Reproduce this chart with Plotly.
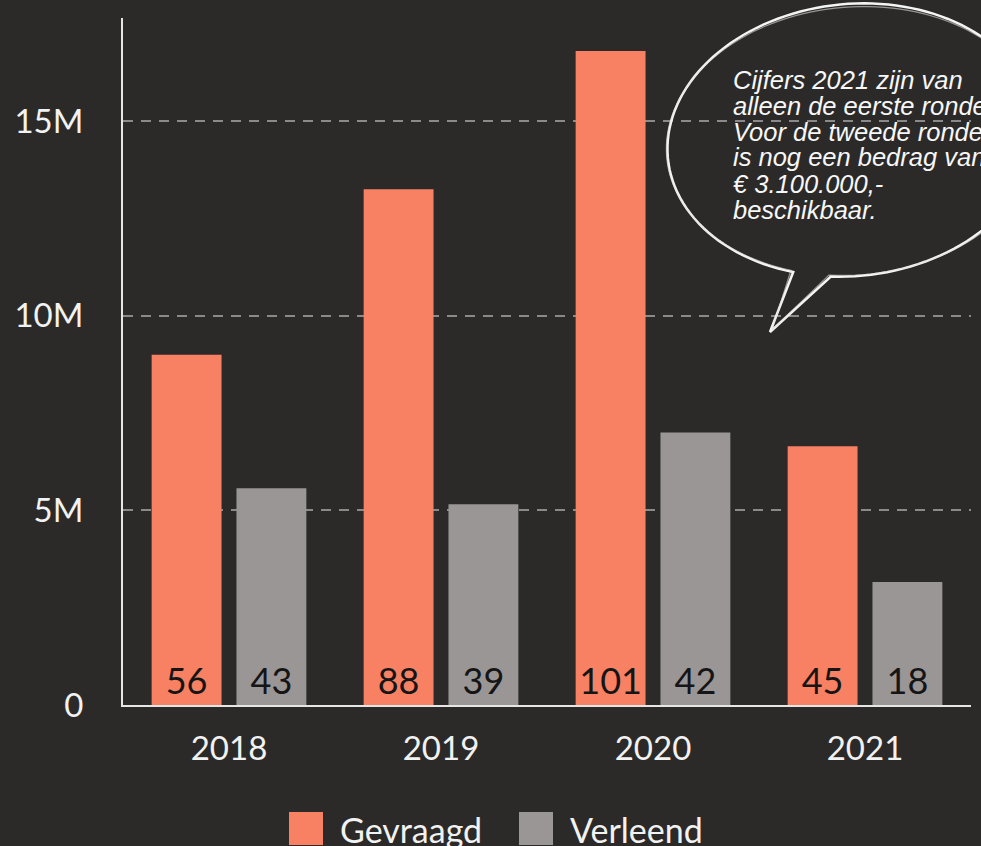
import numpy as np
import plotly.graph_objects as go

# ---- data ----
years = ["2018", "2019", "2020", "2021"]
gevraagd = [9.0e6, 13.25e6, 16.8e6, 6.65e6]
verleend = [5.57e6, 5.16e6, 7.0e6, 3.16e6]
aantal_gevraagd = [56, 88, 101, 45]
aantal_verleend = [43, 39, 42, 18]
series_names = ["Gevraagd", "Verleend"]
y_tickvals = [0, 5e6, 10e6, 15e6]
y_ticktext = ["0", "5M", "10M", "15M"]
note_lines = [
    "Cijfers 2021 zijn van",
    "alleen de eerste ronde.",
    "Voor de tweede ronde",
    "is nog een bedrag van",
    "€ 3.100.000,-",
    "beschikbaar.",
]

# ---- style ----
BG = "#2b2a29"
ORANGE = "#f98163"
GREY = "#9a9695"
TXT = "#f2f2f2"
W, H = 981, 846
ML, MR, MT, MB = 123, 10, 18, 141
PW, PH = W - ML - MR, H - MT - MB


def px(x):
    return (x - ML) / PW


def py(y):
    return (H - MB - y) / PH


fig = go.Figure()
colors = [ORANGE, GREY]
for name, vals, counts, col in zip(series_names, [gevraagd, verleend],
                                   [aantal_gevraagd, aantal_verleend], colors):
    fig.add_trace(go.Bar(
        x=years, y=vals, name=name,
        marker=dict(color=col, line=dict(width=0)),
        text=[str(c) for c in counts],
        textposition="inside", insidetextanchor="start", textangle=0,
        textfont=dict(family="Lato, sans-serif", size=36, color="#151515"),
        showlegend=False,
    ))

shapes = []
annotations = []

# custom legend
leg = [(289, 338, ORANGE, series_names[0]), (519, 568, GREY, series_names[1])]
for x0, xt, col, name in leg:
    shapes.append(dict(type="rect", xref="paper", yref="paper",
                       x0=px(x0), x1=px(x0 + 34), y0=py(845), y1=py(812),
                       fillcolor=col, line=dict(width=0), layer="above"))
    annotations.append(dict(x=px(xt), y=py(829), xref="paper", yref="paper",
                            text=name, showarrow=False, xanchor="left", yanchor="middle",
                            font=dict(family="Lato, sans-serif", size=34, color=TXT)))

# speech bubble
def bubble_path(cx, cy, a, b, th_deg, t0, t1, tip):
    th = np.radians(th_deg)
    t = np.radians(np.linspace(t0, t1, 140))
    ex, ey = a * np.cos(t), b * np.sin(t)
    xs = cx + ex * np.cos(th) - ey * np.sin(th)
    ys = cy + ex * np.sin(th) + ey * np.cos(th)
    pts = [f"{px(x):.5f},{py(y):.5f}" for x, y in zip(xs, ys)]
    pts.append(f"{px(tip[0]):.5f},{py(tip[1]):.5f}")
    return "M" + " L".join(pts) + " Z"

shapes.append(dict(type="path", xref="paper", yref="paper",
                   path=bubble_path(852, 140, 185, 136, -6, 113, 461, (770, 332)),
                   line=dict(color="#f4f4f4", width=2.5), layer="above"))
shapes.append(dict(type="path", xref="paper", yref="paper",
                   path=bubble_path(853, 141, 187, 134, -5, 113, 461, (772, 330)),
                   line=dict(color="#dddddd", width=1.2), opacity=0.6, layer="above"))

line_y = [80, 106, 132, 157, 184, 210]
for txt, yy in zip(note_lines, line_y):
    annotations.append(dict(x=px(731), y=py(yy), xref="paper", yref="paper",
                            text=f"<i>{txt}</i>", showarrow=False,
                            xanchor="left", yanchor="middle",
                            font=dict(family="Liberation Sans, Arial, sans-serif",
                                      size=25.5, color="#f7f7f7")))

fig.update_layout(
    width=W, height=H,
    margin=dict(l=ML, r=MR, t=MT, b=MB, pad=0, autoexpand=False),
    paper_bgcolor=BG, plot_bgcolor=BG,
    barmode="group", bargap=0.2, bargroupgap=0.176,
    shapes=shapes, annotations=annotations,
    showlegend=False,
    font=dict(family="Lato, sans-serif", color=TXT),
)
fig.update_xaxes(
    showline=True, linecolor="#e6e6e6", linewidth=2,
    showgrid=False, ticks="", automargin=False,
    tickfont=dict(family="Lato, sans-serif", size=33, color=TXT),
    ticklabelstandoff=13,
)
fig.update_yaxes(
    range=[0, 17.65e6],
    tickvals=y_tickvals, ticktext=y_ticktext,
    showline=True, linecolor="#e6e6e6", linewidth=2,
    showgrid=True, gridcolor="#8a8a8a", gridwidth=2, griddash="10px,8px",
    zeroline=False, ticks="", automargin=False,
    tickfont=dict(family="Lato, sans-serif", size=33, color=TXT),
    ticklabelstandoff=31,
)

fig.write_html("out.html")
